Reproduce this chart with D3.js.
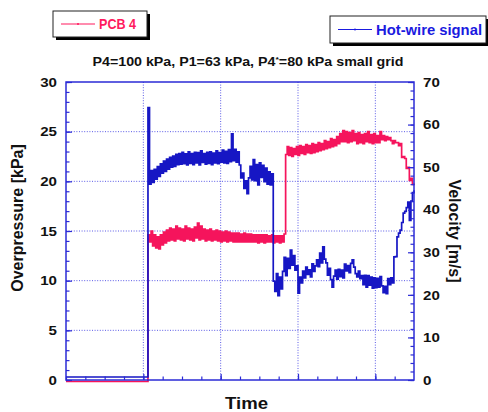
<!DOCTYPE html>
<html>
<head>
<meta charset="utf-8">
<title>PCB 4 / Hot-wire signal</title>
<style>
  body { margin: 0; background: #fff; }
  svg text { font-family: "Liberation Sans", Arial, sans-serif; font-weight: bold; }
  .axis path { display: none; }
  .axis line { stroke: #2b2bd6; stroke-width: 1.2; }
  .axis text { font-size: 13px; fill: #111; }
  .grid line { stroke: #5a5ae6; stroke-width: 1; stroke-dasharray: 1,1.6; }
</style>
<script src="https://d3js.org/d3.v7.min.js"></script>
</head>
<body>
<div id="chart"></div>
<script>
// samples start at 1.04 and are 0.02 apart (time in grid units, no labels on the axis)
var sampleStart = 1.04, sampleStep = 0.02;

// PCB 4 overpressure [kPa]
var pcbBaseline = -0.15;
var pcbKpa = [
  -0.15, 14.6, 13.9, 15, 13.5, 14.6, 13.3, 14.4, 13.2, 14.6,
  13.6, 14.9, 13.8, 15.1, 14, 15.3, 14.1, 15.2, 14, 15.5,
  14.2, 15.3, 14.1, 15.2, 14, 15.5, 14.2, 15.3, 14.1, 15.2,
  14, 15.4, 14.3, 15.8, 14.1, 15.5, 14.2, 15.2, 14, 15.1,
  14.1, 15.2, 14, 15, 14.1, 15.1, 14, 15, 13.9, 14.9,
  14, 15, 13.9, 14.9, 14, 14.8, 13.9, 14.8, 13.9, 14.8,
  13.9, 14.7, 13.9, 14.8, 13.9, 14.7, 13.9, 14.7, 13.9, 14.6,
  13.9, 14.6, 13.8, 14.6, 13.9, 14.6, 13.8, 14.6, 13.9, 14.5,
  13.9, 14.6, 13.8, 14.5, 13.9, 14.5, 13.8, 14.5, 13.9, 14.7,
  22.7, 23.5, 22.6, 23.4, 22.5, 23.3, 22.7, 23.5, 22.6, 23.6,
  22.8, 23.5, 22.7, 23.7, 22.9, 23.6, 22.8, 23.8, 22.9, 23.7,
  23, 23.9, 23.1, 23.8, 23.2, 24.1, 23.3, 24, 23.4, 24.3,
  23.5, 24.2, 23.6, 24.5, 23.8, 24.8, 24, 25.1, 24, 25,
  23.9, 24.9, 24, 25.1, 24.1, 24.8, 23.8, 24.9, 23.9, 24.7,
  23.8, 24.8, 24, 25, 23.9, 24.7, 23.8, 24.8, 23.9, 24.6,
  23.9, 25, 24.2, 24.6, 24.1, 24.5, 24.2, 24.4, 24.1, 23.8,
  24.1, 23.9, 23.9, 23.6, 23.8, 22.4, 22.5, 22.3, 21.3, 21.4,
  20.1, 20.3, 19.7, 19.6
];

// hot-wire velocity [m/s]
var hotBaseline = 0.7;
var hotMs = [
  0.7, 64, 46, 49.2, 46.4, 49.5, 47.2, 50.1, 47.8, 50.8,
  48.6, 51.4, 49, 51.9, 49.5, 52.3, 50, 52.6, 50.2, 53,
  50.6, 53.2, 50.7, 53.5, 50.8, 53.1, 50.5, 53.6, 50.9, 53.2,
  50.6, 53.5, 51, 53.4, 50.5, 53.8, 51.1, 53.2, 50.7, 53.5,
  50.9, 53.6, 50.6, 53.3, 51, 53.8, 50.8, 53.4, 51.2, 54,
  51, 53.7, 50.9, 54.1, 51.3, 57.8, 51.5, 54.2, 51.2, 53.6,
  50.5, 47.5, 48.6, 45, 46.8, 43.8, 47.5, 50.2, 47, 51.8,
  46.8, 50.6, 45.8, 51, 47.6, 50.4, 46.6, 49.8, 46, 48.9,
  45.8, 48.4, 23.2, 20.8, 25, 19.8, 24.2, 21.4, 25.5, 28.8,
  24.5, 28.6, 26.2, 30.5, 27, 29.2, 25.8, 26.8, 20.4, 24.2,
  22.8, 25.6, 24, 26.5, 24.8, 25.9, 24.2, 27.3, 25.5, 26.8,
  28.2, 26.6, 29.8, 27.5, 31.3, 28.4, 27.5, 24.6, 26.2, 23.6,
  21.8, 24.4, 25.8, 23.7, 26, 24.3, 25.8, 24, 27.2, 25.6,
  26.9, 25.2, 27.4, 28.2, 26.5, 25, 24.2, 25.6, 23.8, 24.5,
  22.4, 24.6, 21.8, 24.5, 22.3, 24.2, 21.6, 24, 21.7, 23.9,
  21.8, 24.3, 22.1, 20.5, 22, 20.3, 23.8, 22.4, 24, 22.8,
  28.9, 29, 33.6, 34.5, 35.2, 37, 39.2, 39.6, 40.5, 41.8,
  37.5, 42, 44, 44.6
];

var timeTicks = [1, 2, 3, 4];
var pressureTicks = [0, 5, 10, 15, 20, 25, 30];
var velocityTicks = [0, 10, 20, 30, 40, 50, 60, 70];

var W = 488, H = 412;
var pL = 66, pR = 414, pT = 82, pB = 380;

var red = "#f5145c", blue = "#1616c4", frame = "#2b2bd6";

var svg = d3.select("#chart").append("svg")
  .attr("width", W).attr("height", H);

var x = d3.scaleLinear().domain([0, 4.5]).range([pL, pR]);
var yL = d3.scaleLinear().domain([0, 30]).range([pB, pT]);
var yR = d3.scaleLinear().domain([0, 70]).range([pB, pT]);

// grid
var grid = svg.append("g").attr("class", "grid");
grid.selectAll(".v").data(timeTicks).enter().append("line")
  .attr("x1", d => x(d)).attr("x2", d => x(d))
  .attr("y1", pT).attr("y2", pB);
grid.selectAll(".h").data(pressureTicks.slice(1, -1)).enter().append("line")
  .attr("x1", pL).attr("x2", pR)
  .attr("y1", d => yL(d)).attr("y2", d => yL(d));

// series
function toPoints(base, vals) {
  var pts = [{t: 0, v: base}];
  vals.forEach(function(v, i) { pts.push({t: sampleStart + i * sampleStep, v: v}); });
  return pts;
}

var lineL = d3.line().x(d => x(d.t)).y(d => yL(d.v)).curve(d3.curveStepAfter);
var lineR = d3.line().x(d => x(d.t)).y(d => yR(d.v)).curve(d3.curveStepAfter);

svg.append("path").datum(toPoints(pcbBaseline, pcbKpa))
  .attr("d", lineL).attr("fill", "none")
  .attr("stroke", red).attr("stroke-width", 1.7);

svg.append("path").datum(toPoints(hotBaseline, hotMs))
  .attr("d", lineR).attr("fill", "none")
  .attr("stroke", blue).attr("stroke-width", 1.7);

// axes (ticks point inward)
function stretch(sel) {
  sel.selectAll("text")
    .attr("textLength", d => String(d).length * 8.4)
    .attr("lengthAdjust", "spacingAndGlyphs");
}

svg.append("g").attr("class", "axis")
  .attr("transform", "translate(" + pL + ",0)")
  .call(d3.axisLeft(yL).tickValues(d3.range(0, 31, 1)).tickSize(-3.5).tickSizeOuter(0).tickFormat(""));
svg.append("g").attr("class", "axis")
  .attr("transform", "translate(" + pL + ",0)")
  .call(d3.axisLeft(yL).tickValues(pressureTicks).tickSize(-6).tickSizeOuter(0).tickPadding(9))
  .call(stretch);

svg.append("g").attr("class", "axis")
  .attr("transform", "translate(" + pR + ",0)")
  .call(d3.axisRight(yR).tickValues(d3.range(0, 71, 2)).tickSize(-3.5).tickSizeOuter(0).tickFormat(""));
svg.append("g").attr("class", "axis")
  .attr("transform", "translate(" + pR + ",0)")
  .call(d3.axisRight(yR).tickValues(velocityTicks).tickSize(-6).tickSizeOuter(0).tickPadding(9))
  .call(stretch);

svg.append("g").attr("class", "axis")
  .attr("transform", "translate(0," + pB + ")")
  .call(d3.axisBottom(x).tickValues(d3.range(0, 4.5, 0.25)).tickSize(-3.5).tickSizeOuter(0).tickFormat(""));
svg.append("g").attr("class", "axis")
  .attr("transform", "translate(0," + pB + ")")
  .call(d3.axisBottom(x).tickValues(timeTicks).tickSize(-6).tickSizeOuter(0).tickFormat(""));

svg.append("rect")
  .attr("x", pL).attr("y", pT)
  .attr("width", pR - pL).attr("height", pB - pT)
  .attr("fill", "none").attr("stroke", frame).attr("stroke-width", 1.5);

// titles
var title = svg.append("text")
  .attr("x", 248).attr("y", 65.5).attr("text-anchor", "middle")
  .attr("font-size", 13).attr("fill", "#111")
  .attr("textLength", 311).attr("lengthAdjust", "spacingAndGlyphs");
title.append("tspan").text("P4=100 kPa, P1=63 kPa, P4");
title.append("tspan").attr("font-size", 8).attr("dy", -4).text("*");
title.append("tspan").attr("dy", 4).text("=80 kPa small grid");

svg.append("text")
  .attr("transform", "translate(23,218) rotate(-90)")
  .attr("text-anchor", "middle").attr("font-size", 16).attr("fill", "#111")
  .text("Overpressure [kPa]");

svg.append("text")
  .attr("transform", "translate(449,231) rotate(90)")
  .attr("text-anchor", "middle").attr("font-size", 16).attr("fill", "#111")
  .text("Velocity [m/s]");

svg.append("text")
  .attr("x", 246.5).attr("y", 409).attr("text-anchor", "middle")
  .attr("font-size", 16).attr("fill", "#111")
  .attr("textLength", 43).attr("lengthAdjust", "spacingAndGlyphs")
  .text("Time");

// legends
function legendBox(bx, by, bw, bh, color, label, textW) {
  var g = svg.append("g");
  g.append("rect").attr("x", bx + 3).attr("y", by + 3).attr("width", bw).attr("height", bh).attr("fill", "#000");
  g.append("rect").attr("x", bx).attr("y", by).attr("width", bw).attr("height", bh)
    .attr("fill", "#fff").attr("stroke", "#222").attr("stroke-width", 1);
  var ly = by + bh / 2;
  g.append("line").attr("x1", bx + 8).attr("x2", bx + 42).attr("y1", ly).attr("y2", ly)
    .attr("stroke", color).attr("stroke-width", 1.2);
  g.append("circle").attr("cx", bx + 25).attr("cy", ly).attr("r", 1).attr("fill", color);
  g.append("text").attr("x", bx + 46).attr("y", ly + 5).attr("font-size", 14)
    .attr("fill", color).attr("textLength", textW).attr("lengthAdjust", "spacingAndGlyphs")
    .text(label);
}
legendBox(53, 11, 94, 26, "#ff1a5e", "PCB 4", 37);
legendBox(330, 16, 156, 27, "#1a1ae0", "Hot-wire signal", 106);
</script>
</body>
</html>
